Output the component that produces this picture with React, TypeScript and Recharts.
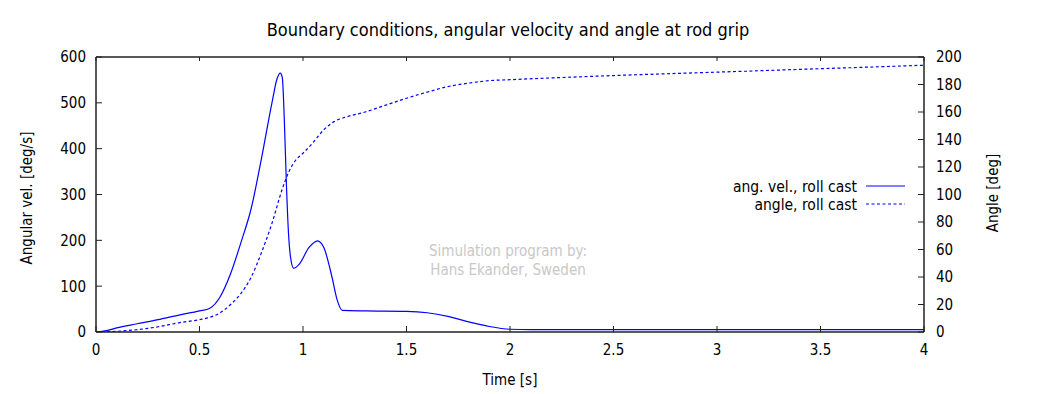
import React from 'react';
import { LineChart, Line, XAxis, YAxis } from 'recharts';

const FONT = "'DejaVu Sans Condensed', 'Open Sans', sans-serif";
const FS = 15;

// Angular velocity (deg/s) vs time (s)
const velTimes = [0, 0.05, 0.1, 0.2, 0.3, 0.4, 0.5, 0.55, 0.6, 0.65, 0.7, 0.75, 0.8, 0.85, 0.875, 0.89, 0.9, 0.91, 0.92, 0.93, 0.94, 0.955, 0.98, 1.03, 1.07, 1.1, 1.14, 1.165, 1.19, 1.3, 1.5, 1.6, 1.7, 1.8, 1.9, 2.0, 2.1, 4.0];
const velValues = [0, 3, 9, 18, 27, 37, 46, 52, 77, 127, 195, 270, 380, 500, 553, 565, 555, 460, 320, 215, 163, 139, 147, 185, 199, 185, 120, 70, 47, 46, 45, 42, 34, 22, 12, 6, 5, 5];

// Angle (deg) vs time (s)
const angleTimes = [0, 0.1, 0.2, 0.3, 0.4, 0.5, 0.55, 0.6, 0.65, 0.7, 0.75, 0.8, 0.85, 0.9, 0.93, 0.96, 1.0, 1.05, 1.1, 1.15, 1.2, 1.3, 1.4, 1.5, 1.6, 1.7, 1.8, 1.9, 2.0, 2.5, 3.0, 3.5, 4.0];
const angleValues = [0, 0.5, 1.7, 3.8, 6.7, 9.0, 10.7, 14, 20, 28, 40, 58, 79, 104, 116, 124, 130, 138, 147, 153, 156, 160, 165, 170, 174.5, 178.5, 181, 182.8, 183.5, 186.5, 189, 191.5, 194];

const xTicks = [0, 0.5, 1, 1.5, 2, 2.5, 3, 3.5, 4];
const leftTicks = [0, 100, 200, 300, 400, 500, 600];
const rightTicks = [0, 20, 40, 60, 80, 100, 120, 140, 160, 180, 200];

const seriesNames = ['ang. vel., roll cast', 'angle, roll cast'];
const title = 'Boundary conditions, angular velocity and angle at rod grip';
const xLabel = 'Time [s]';
const leftLabel = 'Angular vel. [deg/s]';
const rightLabel = 'Angle [deg]';
const watermark = ['Simulation program by:', 'Hans Ekander, Sweden'];

const velData = velTimes.map((t, i) => ({ t, v: velValues[i] }));
const angleData = angleTimes.map((t, i) => ({ t, a: angleValues[i] }));

const W = 1039;
const H = 394;
const FRAME = '#222';
const BLUE = '#0000ff';
const M = 10;

const LeftTick = (p: any) => (
  <g>
    <line x1={p.x + M} x2={p.x + M + 6} y1={p.y} y2={p.y} stroke={FRAME} strokeWidth={1} />
    <text x={p.x} y={p.y} dy="0.36em" textAnchor="end" fill="#000" fontSize={FS} fontFamily={FONT}>{p.payload.value}</text>
  </g>
);
const RightTick = (p: any) => (
  <g>
    <line x1={p.x - M} x2={p.x - M - 6} y1={p.y} y2={p.y} stroke={FRAME} strokeWidth={1} />
    <text x={p.x + 2} y={p.y} dy="0.36em" textAnchor="start" fill="#000" fontSize={FS} fontFamily={FONT}>{p.payload.value}</text>
  </g>
);
const BottomTick = (p: any) => (
  <g>
    <line x1={p.x} x2={p.x} y1={p.y - M} y2={p.y - M - 6} stroke={FRAME} strokeWidth={1} />
    <text x={p.x} y={p.y + 2} dy="0.71em" textAnchor="middle" fill="#000" fontSize={FS} fontFamily={FONT}>{String(p.payload.value)}</text>
  </g>
);
const TopTick = (p: any) => (
  <g>
    <line x1={p.x} x2={p.x} y1={p.y + M} y2={p.y + M + 4} stroke={FRAME} strokeWidth={1} />
  </g>
);

const textStyle: React.CSSProperties = {
  position: 'absolute',
  fontFamily: FONT,
  fontSize: FS,
  color: '#000',
  whiteSpace: 'nowrap',
  lineHeight: 1,
};

export default function App() {
  const axisLine = { stroke: FRAME, strokeWidth: 1.5 };
  return (
    <div style={{ position: 'absolute', left: 0, top: 0, width: W, height: H, background: '#fff' }}>
      <LineChart
        width={W}
        height={H}
        margin={{ top: 47, right: 55, bottom: 32, left: 36 }}
        style={{ fontFamily: FONT }}
      >
        <XAxis
          xAxisId="bottom"
          type="number"
          dataKey="t"
          domain={[0, 4]}
          ticks={xTicks}
          allowDataOverflow
          height={30}
          tickSize={0}
          tickMargin={M}
          tickLine={false}
          axisLine={axisLine}
          tick={<BottomTick />}
          interval={0}
        />
        <XAxis
          xAxisId="top"
          orientation="top"
          type="number"
          dataKey="t"
          domain={[0, 4]}
          ticks={xTicks}
          allowDataOverflow
          height={10}
          tickSize={0}
          tickMargin={M}
          tickLine={false}
          axisLine={axisLine}
          tick={<TopTick />}
          interval={0}
        />
        <YAxis
          yAxisId="left"
          orientation="left"
          domain={[0, 600]}
          ticks={leftTicks}
          allowDataOverflow
          width={60}
          tickSize={0}
          tickMargin={M}
          tickLine={false}
          axisLine={axisLine}
          tick={<LeftTick />}
          interval={0}
        />
        <YAxis
          yAxisId="right"
          orientation="right"
          domain={[0, 200]}
          ticks={rightTicks}
          allowDataOverflow
          width={60}
          tickSize={0}
          tickMargin={M}
          tickLine={false}
          axisLine={axisLine}
          tick={<RightTick />}
          interval={0}
        />
        <Line
          data={velData}
          xAxisId="bottom"
          yAxisId="left"
          dataKey="v"
          name={seriesNames[0]}
          type="monotone"
          stroke={BLUE}
          strokeWidth={1.2}
          dot={false}
          isAnimationActive={false}
        />
        <Line
          data={angleData}
          xAxisId="top"
          yAxisId="right"
          dataKey="a"
          name={seriesNames[1]}
          type="monotone"
          stroke={BLUE}
          strokeWidth={1.2}
          strokeDasharray="3 2.5"
          dot={false}
          isAnimationActive={false}
        />
      </LineChart>

      <div style={{ ...textStyle, left: 0, width: 1016, top: 21, textAlign: 'center', fontSize: 18 }}>{title}</div>
      <div style={{ ...textStyle, left: 0, width: 1020, top: 373, textAlign: 'center' }}>{xLabel}</div>
      <div style={{ ...textStyle, left: 27, top: 198, transform: 'translate(-50%, -50%) rotate(-90deg)' }}>{leftLabel}</div>
      <div style={{ ...textStyle, left: 993, top: 193, transform: 'translate(-50%, -50%) rotate(-90deg)' }}>{rightLabel}</div>

      <div style={{ ...textStyle, left: 0, width: 1016, top: 242, textAlign: 'center', color: '#c8c8c8', lineHeight: '19px' }}>
        {watermark[0]}<br />{watermark[1]}
      </div>

      <div style={{ ...textStyle, left: 600, width: 257, top: 178, textAlign: 'right', lineHeight: '18px', fontSize: 15.5 }}>
        {seriesNames[0]}<br />{seriesNames[1]}
      </div>
      <svg style={{ position: 'absolute', left: 866, top: 178 }} width={40} height={36}>
        <line x1={0} x2={39} y1={8} y2={8} stroke={BLUE} strokeWidth={1.2} />
        <line x1={0} x2={39} y1={26} y2={26} stroke={BLUE} strokeWidth={1.2} strokeDasharray="3 2.5" />
      </svg>
    </div>
  );
}
